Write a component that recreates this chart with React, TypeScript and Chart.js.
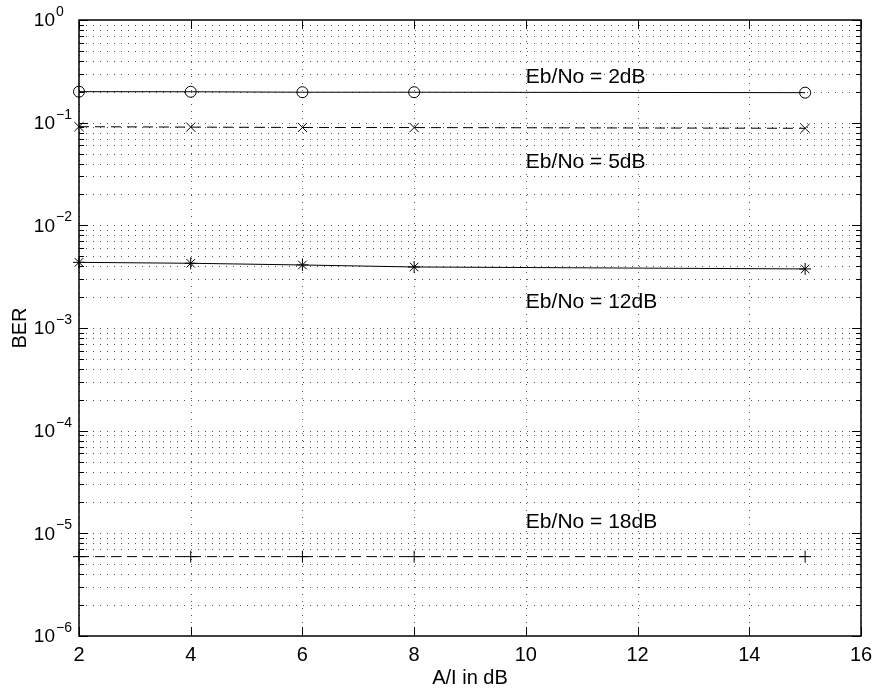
import React, { useEffect, useRef } from "react";
import { Chart, registerables } from "chart.js";

Chart.register(...registerables);

// A/I ratio (dB) at which BER was measured
const aiDb = [2, 4, 6, 8, 15];

// Bit error rate for each Eb/No setting
const ber2dB = [0.2004, 0.2, 0.198, 0.198, 0.196];
const ber5dB = [0.0914, 0.0905, 0.0898, 0.0896, 0.0881];
const ber12dB = [0.00436, 0.00427, 0.00411, 0.00393, 0.00376];
const ber18dB = [5.93e-6, 5.93e-6, 5.93e-6, 5.93e-6, 5.93e-6];

// Curve annotations (placed in data coordinates)
const noteText = ["Eb/No = 2dB", "Eb/No = 5dB", "Eb/No = 12dB", "Eb/No = 18dB"];
const noteX = [10, 10, 10, 10];
const noteY = [0.28, 0.041, 0.00177, 1.28e-5];

// Axis ticks
const xTicks = [2, 4, 6, 8, 10, 12, 14, 16];
const yExponents = [0, -1, -2, -3, -4, -5, -6];

const FONT = '"Liberation Sans", Arial, Helvetica, sans-serif';

const matlabAxes = {
  id: "matlabAxes",
  beforeDatasetsDraw(chart: any) {
    const { ctx, chartArea: a } = chart;
    const xs = chart.scales.x;
    const ys = chart.scales.y;
    ctx.save();
    // dotted grid
    ctx.strokeStyle = "#555";
    ctx.lineWidth = 1;
    ctx.setLineDash([1, 6]);
    for (const v of xTicks) {
      const px = Math.round(xs.getPixelForValue(v)) + 0.5;
      ctx.beginPath();
      ctx.moveTo(px, a.top);
      ctx.lineTo(px, a.bottom);
      ctx.stroke();
    }
    for (let e = -6; e < 0; e++) {
      for (let m = 1; m <= 9; m++) {
        if (e === -6 && m === 1) continue;
        const py = Math.round(ys.getPixelForValue(m * Math.pow(10, e))) + 0.5;
        ctx.beginPath();
        ctx.moveTo(a.left, py);
        ctx.lineTo(a.right, py);
        ctx.stroke();
      }
    }
    ctx.restore();
  },
  afterDatasetsDraw(chart: any) {
    const { ctx, chartArea: a } = chart;
    const xs = chart.scales.x;
    const ys = chart.scales.y;
    ctx.save();
    ctx.setLineDash([]);
    ctx.strokeStyle = "#000";
    ctx.lineWidth = 1;
    // inward ticks on all four sides
    const major = 9;
    const minor = 5;
    for (const v of xTicks) {
      const px = Math.round(xs.getPixelForValue(v)) + 0.5;
      ctx.beginPath();
      ctx.moveTo(px, a.bottom);
      ctx.lineTo(px, a.bottom - major);
      ctx.moveTo(px, a.top);
      ctx.lineTo(px, a.top + major);
      ctx.stroke();
    }
    for (let e = -6; e <= 0; e++) {
      for (let m = 1; m <= 9; m++) {
        if (e === 0 && m > 1) break;
        const py = Math.round(ys.getPixelForValue(m * Math.pow(10, e))) + 0.5;
        const len = m === 1 ? major : minor;
        ctx.beginPath();
        ctx.moveTo(a.left, py);
        ctx.lineTo(a.left + len, py);
        ctx.moveTo(a.right, py);
        ctx.lineTo(a.right - len, py);
        ctx.stroke();
      }
    }
    // axes box
    ctx.lineWidth = 1.5;
    ctx.strokeRect(a.left, a.top, a.right - a.left, a.bottom - a.top);

    ctx.fillStyle = "#000";
    // x tick labels
    ctx.font = `20px ${FONT}`;
    ctx.textAlign = "center";
    ctx.textBaseline = "top";
    for (const v of xTicks) {
      ctx.fillText(String(v), xs.getPixelForValue(v), a.bottom + 9);
    }
    // y tick labels 10^e
    for (const e of yExponents) {
      const py = ys.getPixelForValue(Math.pow(10, e));
      ctx.font = `19px ${FONT}`;
      ctx.textAlign = "right";
      ctx.textBaseline = "middle";
      ctx.fillText("10", a.left - 24, py + 1);
      ctx.font = `14px ${FONT}`;
      ctx.textAlign = "left";
      ctx.textBaseline = "alphabetic";
      const label = e === 0 ? "0" : "\u2212" + String(-e);
      ctx.fillText(label, a.left - 23, py - 4);
    }
    // axis titles
    ctx.font = `20px ${FONT}`;
    ctx.textAlign = "center";
    ctx.textBaseline = "middle";
    ctx.fillText("A/I in dB", (a.left + a.right) / 2, a.bottom + 42);
    ctx.save();
    ctx.translate(20, (a.top + a.bottom) / 2);
    ctx.rotate(-Math.PI / 2);
    ctx.fillText("BER", 0, 0);
    ctx.restore();

    // curve annotations
    ctx.font = `21px ${FONT}`;
    ctx.textAlign = "left";
    ctx.textBaseline = "middle";
    noteText.forEach((t, i) => {
      ctx.fillText(t, xs.getPixelForValue(noteX[i]), ys.getPixelForValue(noteY[i]));
    });
    ctx.restore();
  },
};

function series(values: number[], style: string, dashed: boolean, radius: number) {
  return {
    data: aiDb.map((x, i) => ({ x, y: values[i] })),
    borderColor: "#000",
    backgroundColor: "rgba(0,0,0,0)",
    pointBorderColor: "#000",
    pointBackgroundColor: "rgba(0,0,0,0)",
    borderWidth: 1,
    pointBorderWidth: 1,
    borderDash: dashed ? [10, 6] : [],
    pointStyle: style,
    pointRadius: radius,
    pointHoverRadius: radius,
    tension: 0,
    clip: false as any,
  };
}

export default function App() {
  const ref = useRef<HTMLCanvasElement | null>(null);

  useEffect(() => {
    document.body.style.margin = "0";
    const canvas = ref.current;
    if (!canvas) return;
    const chart = new Chart(canvas, {
      type: "line",
      data: {
        datasets: [
          series(ber2dB, "circle", false, 5.5),
          series(ber5dB, "crossRot", true, 6.5),
          series(ber12dB, "star", false, 6),
          series(ber18dB, "cross", true, 6),
        ] as any,
      },
      options: {
        animation: false,
        responsive: false,
        devicePixelRatio: 1,
        layout: { padding: { left: 79, top: 20, right: 14, bottom: 55 } },
        plugins: { legend: { display: false }, tooltip: { enabled: false } },
        events: [],
        scales: {
          x: { type: "linear", min: 2, max: 16, display: false },
          y: { type: "logarithmic", min: 1e-6, max: 1, display: false },
        },
      },
      plugins: [matlabAxes],
    });
    return () => chart.destroy();
  }, []);

  return (
    <div style={{ width: 875, height: 691, background: "#fff" }}>
      <canvas ref={ref} width={875} height={691} style={{ display: "block" }} />
    </div>
  );
}
